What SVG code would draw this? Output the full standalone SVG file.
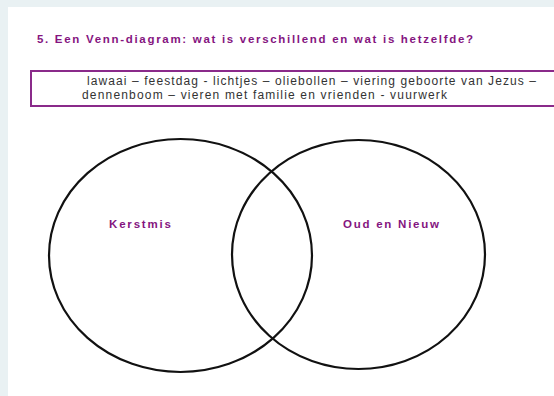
<svg xmlns="http://www.w3.org/2000/svg" width="554" height="396" viewBox="0 0 554 396">
<style>
.title{font-family:"Liberation Sans",Arial,sans-serif;font-weight:bold;font-size:11.5px;fill:#85157f}
.lbl{font-family:"Liberation Sans",Arial,sans-serif;font-weight:bold;font-size:11.5px;fill:#85157f}
.body{font-family:"Liberation Sans",Arial,sans-serif;font-size:12px;fill:#333}
.circ{fill:none;stroke:#111;stroke-width:2.2}
</style>
<rect x="0" y="0" width="554" height="396" fill="#e9f1f3"/>
<rect x="8" y="7" width="546" height="389" fill="#fff"/>
<text class="title" x="37" y="43" textLength="436" lengthAdjust="spacing">5. Een Venn-diagram: wat is verschillend en wat is hetzelfde?</text>
<g id="wordbox">
<rect x="31" y="71" width="530" height="35" fill="#fff" stroke="#8a2a8a" stroke-width="2"/>
<text class="body" x="87" y="85" textLength="449" lengthAdjust="spacing">lawaai –  feestdag - lichtjes – oliebollen – viering geboorte van Jezus –</text>
<text class="body" x="82" y="99" textLength="365" lengthAdjust="spacing">dennenboom – vieren met familie en vrienden - vuurwerk</text>
</g>
<g id="connectors"></g>
<g id="kerstmis">
<ellipse class="circ" cx="180.5" cy="255.5" rx="131.5" ry="116.5"/>
<text class="lbl" x="109" y="228" textLength="62" lengthAdjust="spacing">Kerstmis</text>
</g>
<g id="oud-en-nieuw">
<ellipse class="circ" cx="358.5" cy="254.5" rx="126.5" ry="114.5"/>
<text class="lbl" x="343" y="228" textLength="96" lengthAdjust="spacing">Oud en Nieuw</text>
</g>
</svg>
